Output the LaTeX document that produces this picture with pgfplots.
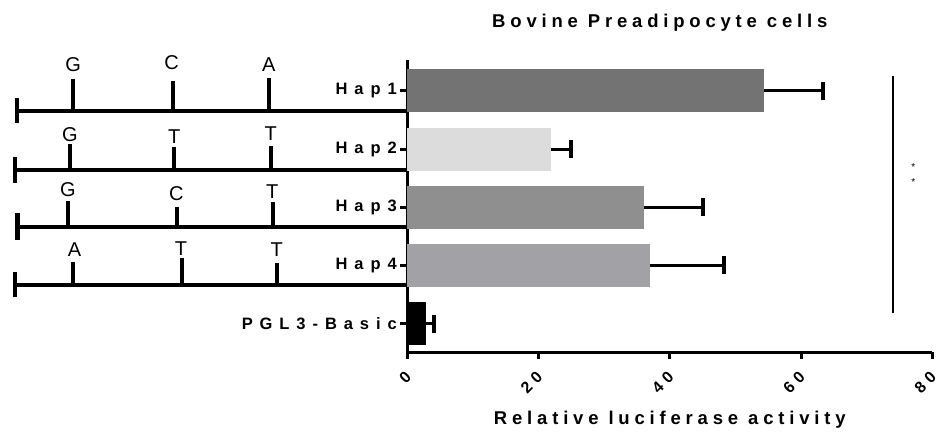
\documentclass[border=0pt]{standalone}
\usepackage{pgfplots}
\pgfplotsset{compat=1.18}
\usepackage{fontspec}
\setmainfont{Liberation Sans}
\newfontfamily\spaced[LetterSpace=26]{Liberation Sans Bold}
\newfontfamily\tickspaced[LetterSpace=42]{Liberation Sans Bold}
\newfontfamily\numspaced[LetterSpace=30]{Liberation Sans Bold}
\definecolor{hapA}{HTML}{737373}
\definecolor{hapB}{HTML}{DCDCDC}
\definecolor{hapC}{HTML}{8F8F8F}
\definecolor{hapD}{HTML}{A2A1A6}

\pgfplotsset{
  hapbar/.style={xbar, bar shift=0pt, bar width=43pt, draw=none, fill=#1,
    error bars/x dir=plus, error bars/x explicit,
    error bars/error bar style={line width=3pt, black},
    error bars/error mark options={rotate=90, line width=4pt, mark size=9pt, black}},
}

\begin{document}
\begin{tikzpicture}
\begin{axis}[
  name=main,
  scale only axis, width=525pt, height=292pt,
  xmin=0, xmax=80, ymin=-0.490, ymax=4.533,
  axis x line*=bottom, axis y line*=left,
  axis line style={line width=3pt},
  tick style={line width=3pt, black},
  major tick length=7pt, tick align=outside,
  xtick={0,20,40,60,80}, xticklabels={0,20,40,60,80},
  ytick={0,1,2,3,4}, yticklabels={PGL3-Basic,Hap4,Hap3,Hap2,Hap1},
  yticklabel style={font=\tickspaced\fontsize{16.5}{18}\selectfont},
  xticklabel style={anchor=east, xshift=3.5pt, yshift=-13pt, rotate=45,
    font=\numspaced\fontsize{16}{17}\selectfont},
  title={Bovine Preadipocyte cells},
  title style={at={(0.5,1)}, anchor=center, yshift=31pt, xshift=-10pt,
    font=\spaced\fontsize{18.5}{20}\selectfont},
  xlabel={Relative luciferase activity},
  xlabel style={at={(0.5,0)}, anchor=center, yshift=-68pt,
    font=\spaced\fontsize{18.5}{20}\selectfont},
  clip=false,
]
% bars
\addplot[hapbar=hapA] coordinates {(54.4,4) +- (9.0,0)};
\addplot[hapbar=hapB] coordinates {(21.9,3) +- (3.1,0)};
\addplot[hapbar=hapC] coordinates {(36.1,2) +- (8.9,0)};
\addplot[hapbar=hapD] coordinates {(37.0,1) +- (11.3,0)};
\addplot[hapbar=black] coordinates {(2.9,0) +- (1.2,0)};

% haplotype schematic: backbone lines
\addplot[line width=4pt, black, unbounded coords=jump] coordinates {
  (-59.5,3.656) (0,3.656) (nan,nan)
  (-59.8,2.641) (0,2.641) (nan,nan)
  (-59.4,1.655) (0,1.655) (nan,nan)
  (-59.8,0.662) (0,0.662)
};
% left end bars
\addplot[line width=4.5pt, black, unbounded coords=jump] coordinates {
  (-59.5,3.880) (-59.5,3.449) (nan,nan)
  (-59.8,2.870) (-59.8,2.412) (nan,nan)
  (-59.4,1.896) (-59.4,1.437) (nan,nan)
  (-59.8,0.891) (-59.8,0.461)
};
% SNP ticks
\addplot[line width=4pt, black, unbounded coords=jump] coordinates {
  (-50.9,3.656) (-50.9,4.201) (nan,nan)
  (-35.75,3.656) (-35.75,4.172) (nan,nan)
  (-21.0,3.656) (-21.0,4.229) (nan,nan)
  (-51.4,2.641) (-51.4,3.083) (nan,nan)
  (-35.5,2.641) (-35.5,3.031) (nan,nan)
  (-20.8,2.641) (-20.8,3.054) (nan,nan)
  (-51.7,1.655) (-51.7,2.108) (nan,nan)
  (-35.1,1.655) (-35.1,2.009) (nan,nan)
  (-20.5,1.655) (-20.5,2.085) (nan,nan)
  (-50.9,0.662) (-50.9,1.063) (nan,nan)
  (-34.4,0.662) (-34.4,1.122) (nan,nan)
  (-19.8,0.662) (-19.8,1.036)
};
% alleles
\begin{scope}[every node/.style={font=\fontsize{20}{22}\selectfont, inner sep=0pt}]
\node at (axis cs:-50.9,4.447) {G};
\node at (axis cs:-35.9,4.482) {C};
\node at (axis cs:-21.1,4.447) {A};
\node at (axis cs:-51.4,3.243) {G};
\node at (axis cs:-35.5,3.209) {T};
\node at (axis cs:-20.8,3.260) {T};
\node at (axis cs:-51.7,2.297) {G};
\node at (axis cs:-35.2,2.228) {C};
\node at (axis cs:-20.6,2.268) {T};
\node at (axis cs:-50.7,1.265) {A};
\node at (axis cs:-34.5,1.282) {T};
\node at (axis cs:-19.9,1.265) {T};
\end{scope}

% significance bracket
\addplot[line width=1.5pt, black] coordinates {(74.0,0.176) (74.0,4.258)};
\node[font=\fontsize{10}{10}\selectfont, inner sep=0pt] at (axis cs:77.1,2.687) {*};
\node[font=\fontsize{10}{10}\selectfont, inner sep=0pt] at (axis cs:77.1,2.429) {*};
\end{axis}
\pgfresetboundingbox
\path (main.south west) ++(-407.3pt,-80pt) rectangle ++(941pt,432pt);
\end{tikzpicture}
\end{document}
